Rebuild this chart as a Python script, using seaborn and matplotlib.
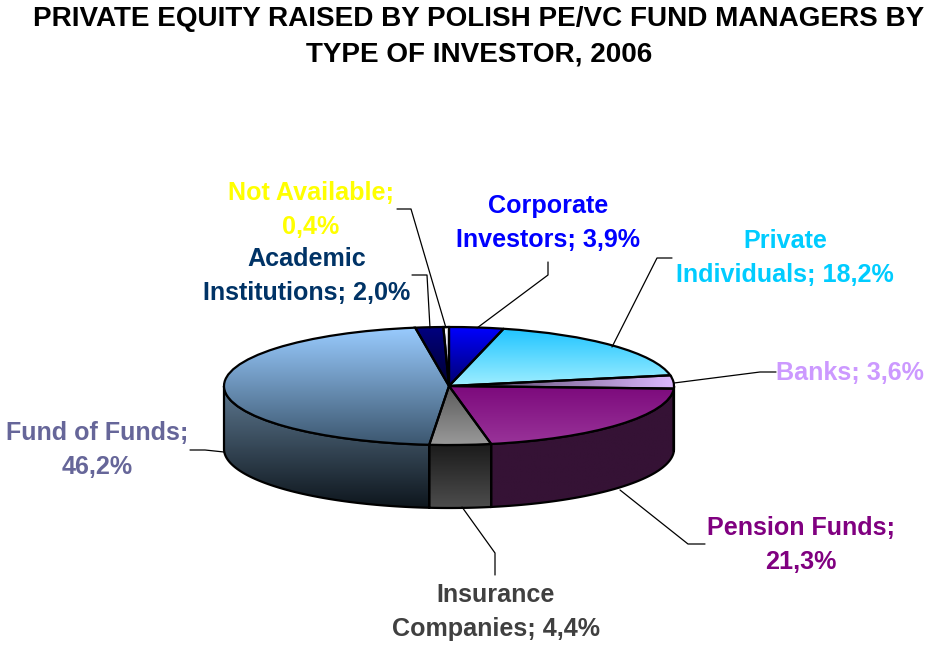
import numpy as np
import matplotlib
matplotlib.use("Agg")
import matplotlib.pyplot as plt
from matplotlib.patches import Polygon
import seaborn as sns

W, H = 926, 646

TITLE = "PRIVATE EQUITY RAISED BY POLISH PE/VC FUND MANAGERS BY\nTYPE OF INVESTOR, 2006"

# clockwise from 12 o'clock
names = ["Corporate\nInvestors", "Private\nIndividuals", "Banks", "Pension Funds",
         "Insurance\nCompanies", "Fund of Funds", "Academic\nInstitutions", "Not Available"]
shares = [3.9, 18.2, 3.6, 21.3, 4.4, 46.2, 2.0, 0.4]
label_colors = ["#0000ff", "#00ccff", "#cc99ff", "#800080",
                "#404040", "#666699", "#003366", "#ffff00"]
top_from = ["#0000ff", "#1fc4ff", "#4a3a5a", "#7c0a7c", "#5a5a5a", "#99ccff", "#000080", "#ffffff"]
top_to = ["#000070", "#9eeeff", "#dcb8ff", "#993399", "#999999", "#3c566f", "#000030", "#9999cc"]
side_from = ["#000080", "#1fc4ff", "#351235", "#351235", "#1a1a1a", "#5d7890", "#000040", "#999999"]
side_to = ["#000040", "#0a5a80", "#351235", "#351235", "#4d4d4d", "#0e161d", "#000020", "#666666"]

# pixel layout of the squashed pie
CX, CY, RX, RY, DEPTH = 449, 386, 225, 59, 63

label_pos = [(548, 223), (785, 258), (850, 373), (801, 545),
             (496, 612), (97, 450), (307, 276), (311, 210)]
leaders = [
    [(548, 262), (548, 275), (477, 328)],
    [(672, 258), (657, 258), (612, 347)],
    [(776, 372), (760, 372), (674, 383)],
    [(705, 544), (688, 544), (620, 490)],
    [(495, 575), (495, 553), (462, 507)],
    [(190, 450), (205, 450), (224, 452)],
    [(412, 275), (427, 275), (430, 328)],
    [(397, 209), (411, 209), (446, 328)],
]

sns.set_theme(style="white")
plt.rcParams["font.family"] = ["Liberation Sans", "DejaVu Sans"]

fig = plt.figure(figsize=(W / 100, H / 100), dpi=100, facecolor="white")
ax = fig.add_axes([0, 0, 1, 1])

wedges, _ = ax.pie(shares, startangle=90, counterclock=False,
                   wedgeprops={"edgecolor": "black", "linewidth": 1.6, "facecolor": "none", "zorder": 5})
ax.set_aspect("auto")
ax.set_xlim(-CX / RX, (W - CX) / RX)
ax.set_ylim((CY - H) / RY, CY / RY)
ax.axis("off")

dz = DEPTH / RY


def gradient(clip, c0, c1, box, horizontal=False, zorder=3):
    cmap = sns.blend_palette([c0, c1], n_colors=128, as_cmap=True)
    g = np.linspace(0, 1, 128)
    g = g[None, :] if horizontal else g[:, None]
    im = ax.imshow(g, cmap=cmap, vmin=0, vmax=1, aspect="auto", extent=box,
                   interpolation="bilinear", zorder=zorder)
    im.set_clip_path(clip)


for i, w in enumerate(wedges):
    # side wall, only the part of the rim that faces the viewer
    lo, hi = max(w.theta1, -180), min(w.theta2, 0)
    if hi > lo:
        t = np.radians(np.linspace(lo, hi, 80))
        xs, ys = np.cos(t), np.sin(t)
        pts = np.r_[np.c_[xs, ys], np.c_[xs, ys - dz][::-1]]
        wall = Polygon(pts, closed=True, facecolor="none", edgecolor="black", linewidth=1.6, zorder=2.5)
        ax.add_patch(wall)
        gradient(wall, side_from[i], side_to[i],
                 (xs.min(), xs.max(), (ys - dz).min(), ys.max()), zorder=2)
    # top face
    box = w.get_path().get_extents()
    gradient(w, top_from[i], top_to[i], (box.x0, box.x1, box.y0, box.y1),
             horizontal=names[i] == "Banks")

ax.set_xlim(-CX / RX, (W - CX) / RX)
ax.set_ylim((CY - H) / RY, CY / RY)

# overlay in pixel coordinates for text and leader lines
over = fig.add_axes([0, 0, 1, 1])
over.set_xlim(0, W)
over.set_ylim(H, 0)
over.axis("off")
over.patch.set_alpha(0)

over.text(479, 37, TITLE, ha="center", va="center", fontsize=20.1, fontweight="bold",
          color="black", linespacing=1.47)

for i, name in enumerate(names):
    pct = f"{shares[i]:.1f}%".replace(".", ",")
    sep = "\n" if name in ("Pension Funds", "Fund of Funds", "Not Available") else " "
    txt = f"{name};{sep}{pct}"
    over.text(*label_pos[i], txt, ha="center", va="center", fontsize=18.1, fontweight="bold",
              color=label_colors[i], linespacing=1.54)
    xs, ys = zip(*leaders[i])
    over.plot(xs, ys, color="black", linewidth=0.9, zorder=6)

fig.savefig("out.png", dpi=100, facecolor="white")
plt.close(fig)
